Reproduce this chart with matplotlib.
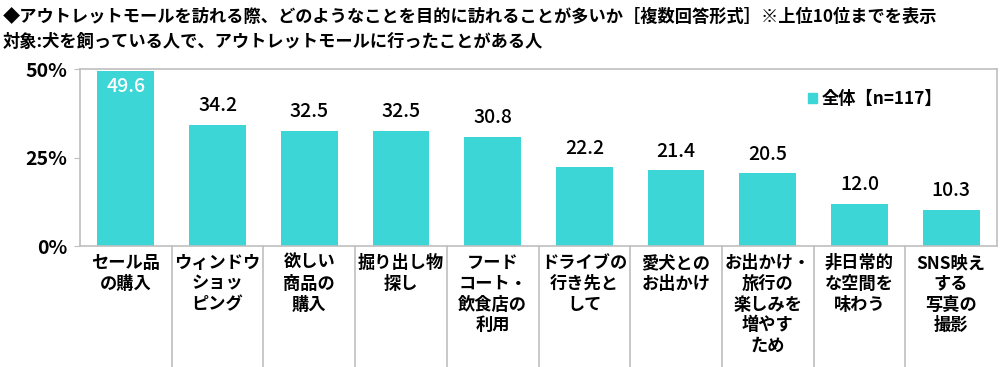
import numpy as np
import matplotlib.pyplot as plt
from matplotlib.patches import Patch

plt.rcParams['font.family'] = ['Noto Sans CJK JP', 'DejaVu Sans']

categories = ['セール品\nの購入', 'ウィンドウ\nショッ\nピング', '欲しい\n商品の\n購入', '掘り出し物\n探し',
              'フード\nコート・\n飲食店の\n利用', 'ドライブの\n行き先と\nして', '愛犬との\nお出かけ',
              'お出かけ・\n旅行の\n楽しみを\n増やす\nため', '非日常的\nな空間を\n味わう', 'SNS映え\nする\n写真の\n撮影']
values = [49.6, 34.2, 32.5, 32.5, 30.8, 22.2, 21.4, 20.5, 12.0, 10.3]
yticks = [0, 25, 50]
ytick_labels = ['0%', '25%', '50%']
series_name = '全体【n=117】'

bar_color = '#3DD6D6'
grid_color = '#BFBFBF'

fig = plt.figure(figsize=(10, 3.67), dpi=100)
ax = fig.add_axes([0.08, 0.3297, 0.917, 0.482])

x = np.arange(len(values))
bars = ax.bar(x, values, width=0.62, color=bar_color, zorder=2)
ax.set_xlim(-0.5, len(values) - 0.5)
ax.set_ylim(0, 50)

ax.set_yticks(yticks)
ax.set_yticklabels(ytick_labels, fontsize=14, fontweight='bold')
ax.tick_params(axis='y', length=4, color=grid_color, pad=5)
ax.tick_params(axis='x', length=0)
ax.set_xticks([])
for s in ax.spines.values():
    s.set_color(grid_color)
    s.set_linewidth(1.2)

# value labels
for i, (b, v) in enumerate(zip(bars, values)):
    if i == 0:
        ax.annotate(f'{v:.1f}', (b.get_x() + b.get_width() / 2, v), xytext=(0, -5),
                    textcoords='offset points', ha='center', va='top',
                    fontsize=14, color='white', fontweight='medium')
    else:
        ax.annotate(f'{v:.1f}', (b.get_x() + b.get_width() / 2, v), xytext=(0, 7),
                    textcoords='offset points', ha='center', va='bottom',
                    fontsize=14, color='black', fontweight='medium')

# category labels and separators below the axis
for i, c in enumerate(categories):
    ax.text(i, -0.045, c, transform=ax.get_xaxis_transform(), ha='center', va='top',
            fontsize=12.4, fontweight='bold', linespacing=1.2)
for i in range(1, len(categories)):
    ax.plot([i - 0.5, i - 0.5], [0, -0.69], transform=ax.get_xaxis_transform(),
            color=grid_color, lw=1.2, clip_on=False)

leg = ax.legend([Patch(color=bar_color)], [series_name], loc='center left',
                bbox_to_anchor=(0.777, 0.83), frameon=False, handlelength=0.5,
                handleheight=0.5, handletextpad=0.3, prop={'size': 12.4, 'weight': 'bold'})

fig.text(0.003, 0.955, '◆アウトレットモールを訪れる際、どのようなことを目的に訪れることが多いか［複数回答形式］※上位10位までを表示',
         fontsize=12.4, fontweight='bold', va='center')
fig.text(0.003, 0.886, '対象:犬を飼っている人で、アウトレットモールに行ったことがある人',
         fontsize=12.4, fontweight='bold', va='center')

plt.savefig('out.png', dpi=100)
plt.close()
